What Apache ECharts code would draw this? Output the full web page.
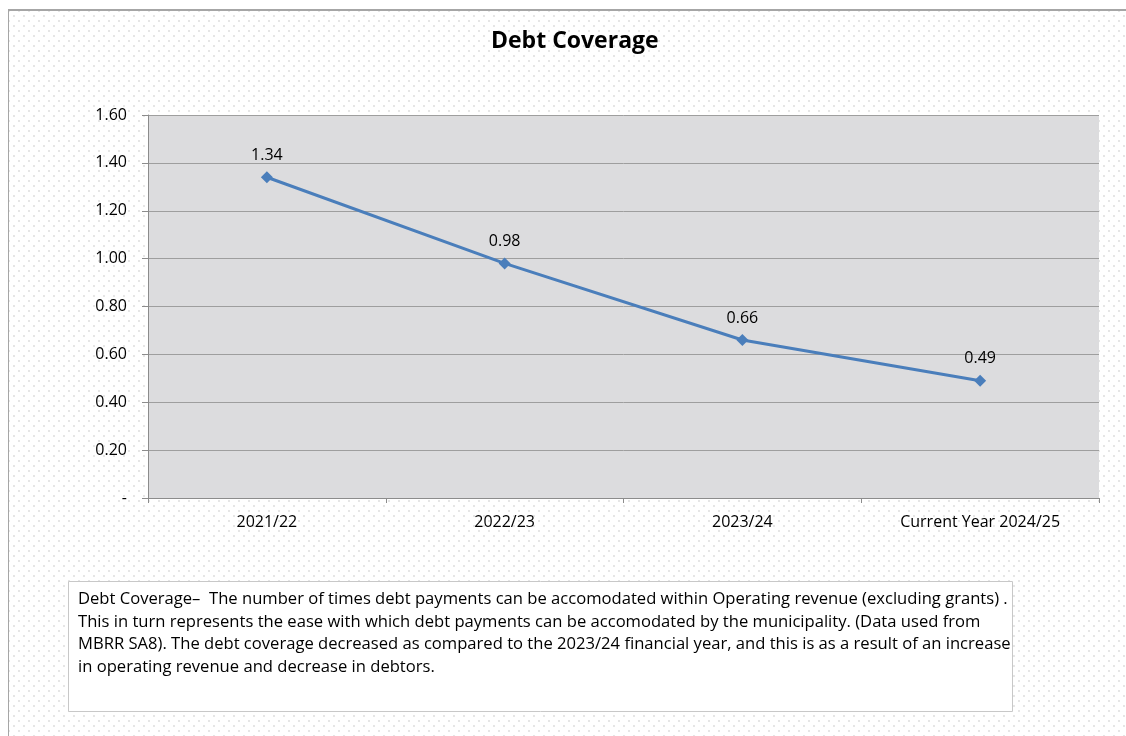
<!DOCTYPE html>
<html>
<head>
<meta charset="utf-8">
<script src="https://cdn.jsdelivr.net/npm/echarts@6/dist/echarts.min.js"></script>
<style>
html,body{margin:0;padding:0;background:#fff;}
#wrap{position:absolute;left:0;top:0;width:1126px;height:736px;}
#bg{position:absolute;left:8px;top:9px;width:1118px;height:727px;border-left:1.5px solid #a6a6a6;border-top:2px solid #a6a6a6;
background-color:#fff;
background-image:radial-gradient(circle, #d8d8d8 0.6px, transparent 0.9px),radial-gradient(circle, #d8d8d8 0.6px, transparent 0.9px);
background-size:10px 10px,10px 10px;background-position:0 0,5px 5px;}
#chart{position:absolute;left:0;top:0;width:1126px;height:736px;}
</style>
</head>
<body>
<div id="wrap"><div id="bg"></div><div id="chart"></div></div>
<script>
const categories = ["2021/22", "2022/23", "2023/24", "Current Year 2024/25"];
const debtCoverage = [1.34, 0.98, 0.66, 0.49];
const yTicks = [0, 0.2, 0.4, 0.6, 0.8, 1.0, 1.2, 1.4, 1.6];
const titleText = "Debt Coverage";
const noteLines = [
  "Debt Coverage\u2013  The number of times debt payments can be accomodated within Operating revenue (excluding grants) .",
  "This in turn represents the ease with which debt payments can be accomodated by the municipality. (Data used from",
  "MBRR SA8). The debt coverage decreased as compared to the 2023/24 financial year, and this is as a result of an increase",
  "in operating revenue and decrease in debtors."
];

const FONT = "'Open Sans', 'Noto Sans', sans-serif";
const chart = echarts.init(document.getElementById('chart'), null, {renderer: 'canvas'});
chart.setOption({
  backgroundColor: 'transparent',
  animation: false,
  title: {
    text: titleText, left: 486, top: 25,
    textStyle: {fontFamily: FONT, fontSize: 23, fontWeight: 'bold', color: '#000'}
  },
  grid: {left: 148, right: 27, top: 115, bottom: 238, show: true, backgroundColor: '#dcdcde', borderWidth: 0},
  xAxis: {
    type: 'category', data: categories, boundaryGap: true,
    axisLine: {lineStyle: {color: '#8c8c8c', width: 1}},
    axisTick: {show: true, length: 5, alignWithLabel: false, lineStyle: {color: '#8c8c8c'}},
    axisLabel: {fontFamily: FONT, fontSize: 16, color: '#000', margin: 16}
  },
  yAxis: {
    type: 'value', min: 0, max: 1.6, interval: 0.2,
    axisLine: {show: true, lineStyle: {color: '#8c8c8c', width: 1}},
    axisTick: {show: true, length: 6, lineStyle: {color: '#8c8c8c'}},
    splitLine: {show: true, lineStyle: {color: '#9e9e9e', width: 1}},
    axisLabel: {
      fontFamily: FONT, fontSize: 16, color: '#000', margin: 21,
      formatter: v => (Math.abs(v) < 1e-9 ? '-' : v.toFixed(2))
    }
  },
  series: [{
    type: 'line', data: debtCoverage,
    symbol: 'diamond', symbolSize: 12,
    lineStyle: {color: '#4a7ebb', width: 3},
    itemStyle: {color: '#4a7ebb'},
    label: {show: true, position: 'top', distance: 8, fontFamily: FONT, fontSize: 16, color: '#000',
      formatter: p => p.value.toFixed(2)}
  }],
  graphic: [
    {type: 'rect', shape: {x: 68.5, y: 581.5, width: 944, height: 130},
     style: {fill: '#fff', stroke: '#c8c8c8', lineWidth: 1}},
    {type: 'text', left: 78, top: 588,
     style: {text: noteLines.join('\n'), font: "16.6px 'Open Sans', 'Noto Sans', sans-serif", fill: '#000', lineHeight: 22.7}}
  ]
});
</script>
</body>
</html>
